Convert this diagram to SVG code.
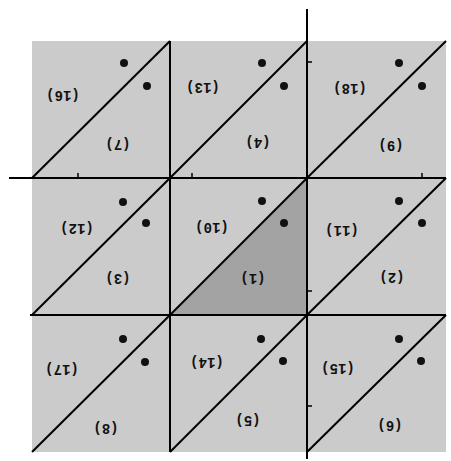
<svg xmlns="http://www.w3.org/2000/svg" width="451" height="461" viewBox="0 0 451 461">
<style>
.sq{fill:#cbcbcb;stroke:none}
.hi{fill:#a3a3a3;stroke:none}
.ln{stroke:#000;stroke-width:2;fill:none}
.tk{stroke:#000;stroke-width:1.5;fill:none}
.dot{fill:#111}
.lb{font-family:"Liberation Mono","DejaVu Sans Mono",monospace;font-size:14px;font-weight:bold;fill:#111;text-anchor:middle;dominant-baseline:central}
</style>
<rect width="451" height="461" fill="#fff"/>
<g id="s1"><rect class="sq" x="32" y="41" width="138" height="137"/><circle class="dot" cx="124" cy="63" r="4"/><circle class="dot" cx="147" cy="86" r="4"/><text class="lb" x="63" y="95" transform="rotate(180 63 95)">(16)</text><text class="lb" x="118" y="144" transform="rotate(180 118 144)">(7)</text></g>
<g id="s2"><rect class="sq" x="170" y="41" width="137" height="137"/><circle class="dot" cx="262" cy="63" r="4"/><circle class="dot" cx="284" cy="86" r="4"/><text class="lb" x="203" y="87" transform="rotate(180 203 87)">(13)</text><text class="lb" x="258" y="142" transform="rotate(180 258 142)">(4)</text></g>
<g id="s3"><rect class="sq" x="307" y="41" width="139" height="137"/><circle class="dot" cx="399" cy="63" r="4"/><circle class="dot" cx="422" cy="86" r="4"/><text class="lb" x="350" y="88" transform="rotate(180 350 88)">(18)</text><text class="lb" x="391" y="145" transform="rotate(180 391 145)">(9)</text></g>
<g id="s4"><rect class="sq" x="32" y="178" width="138" height="137"/><circle class="dot" cx="123" cy="202" r="4"/><circle class="dot" cx="146" cy="223" r="4"/><text class="lb" x="77" y="228" transform="rotate(180 77 228)">(12)</text><text class="lb" x="118" y="278" transform="rotate(180 118 278)">(3)</text></g>
<g id="s5"><rect class="sq" x="170" y="178" width="137" height="137"/><polygon class="hi" points="307,178 307,315 170,315"/><circle class="dot" cx="262" cy="201" r="4"/><circle class="dot" cx="284" cy="223" r="4"/><text class="lb" x="212" y="227" transform="rotate(180 212 227)">(10)</text><text class="lb" x="253" y="278" transform="rotate(180 253 278)">(1)</text></g>
<g id="s6"><rect class="sq" x="307" y="178" width="139" height="137"/><circle class="dot" cx="399" cy="201" r="4"/><circle class="dot" cx="422" cy="223" r="4"/><text class="lb" x="342" y="230" transform="rotate(180 342 230)">(11)</text><text class="lb" x="392" y="277" transform="rotate(180 392 277)">(2)</text></g>
<g id="s7"><rect class="sq" x="32" y="315" width="138" height="137"/><circle class="dot" cx="123" cy="339" r="4"/><circle class="dot" cx="145" cy="362" r="4"/><text class="lb" x="62" y="369" transform="rotate(180 62 369)">(17)</text><text class="lb" x="106" y="428" transform="rotate(180 106 428)">(8)</text></g>
<g id="s8"><rect class="sq" x="170" y="315" width="137" height="137"/><circle class="dot" cx="261" cy="339" r="4"/><circle class="dot" cx="283" cy="361" r="4"/><text class="lb" x="207" y="362" transform="rotate(180 207 362)">(14)</text><text class="lb" x="248" y="420" transform="rotate(180 248 420)">(5)</text></g>
<g id="s9"><rect class="sq" x="307" y="315" width="139" height="137"/><circle class="dot" cx="399" cy="339" r="4"/><circle class="dot" cx="421" cy="361" r="4"/><text class="lb" x="338" y="368" transform="rotate(180 338 368)">(15)</text><text class="lb" x="390" y="425" transform="rotate(180 390 425)">(6)</text></g>
<g id="connectors">
<line class="ln" x1="9" y1="178" x2="446" y2="178"/>
<line class="ln" x1="30" y1="315" x2="446" y2="315"/>
<line class="ln" x1="170" y1="41" x2="170" y2="452"/>
<line class="ln" x1="307" y1="9" x2="307" y2="459"/>
<line class="ln" x1="32" y1="178" x2="170" y2="41"/>
<line class="ln" x1="170" y1="178" x2="307" y2="41"/>
<line class="ln" x1="307" y1="178" x2="446" y2="41"/>
<line class="ln" x1="32" y1="315" x2="170" y2="178"/>
<line class="ln" x1="170" y1="315" x2="307" y2="178"/>
<line class="ln" x1="307" y1="315" x2="446" y2="178"/>
<line class="ln" x1="32" y1="452" x2="170" y2="315"/>
<line class="ln" x1="170" y1="452" x2="307" y2="315"/>
<line class="ln" x1="307" y1="452" x2="446" y2="315"/>
<line class="tk" x1="78" y1="173" x2="78" y2="178"/>
<line class="tk" x1="192" y1="173" x2="192" y2="178"/>
<line class="tk" x1="422" y1="173" x2="422" y2="178"/>
<line class="tk" x1="307" y1="62" x2="312" y2="62"/>
<line class="tk" x1="307" y1="291" x2="312" y2="291"/>
<line class="tk" x1="307" y1="406" x2="312" y2="406"/>
</g>
</svg>
